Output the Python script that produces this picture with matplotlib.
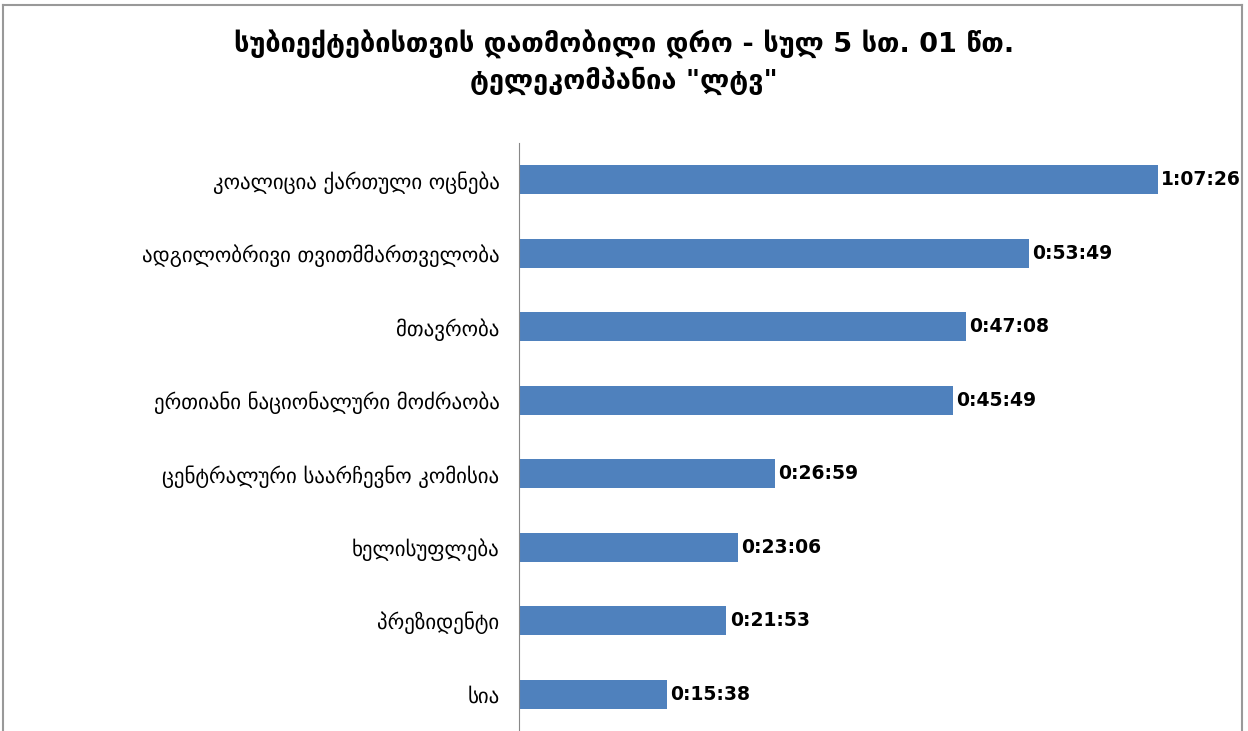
import matplotlib
matplotlib.use('Agg')
import matplotlib.pyplot as plt
from matplotlib.lines import Line2D

plt.rcParams['font.family'] = ['DejaVu Sans']

categories = ['კოალიცია ქართული ოცნება', 'ადგილობრივი თვითმმართველობა', 'მთავრობა',
              'ერთიანი ნაციონალური მოძრაობა', 'ცენტრალური საარჩევნო კომისია',
              'ხელისუფლება', 'პრეზიდენტი', 'სია']
times = ['1:07:26', '0:53:49', '0:47:08', '0:45:49', '0:26:59', '0:23:06', '0:21:53', '0:15:38']
title = 'სუბიექტებისთვის დათმობილი დრო - სულ 5 სთ. 01 წთ.\nტელეკომპანია "ლტვ"'


def to_seconds(t):
    h, m, s = t.split(':')
    return int(h) * 3600 + int(m) * 60 + int(s)


seconds = [to_seconds(t) for t in times]

W, H = 1248, 731
fig = plt.figure(figsize=(W / 100, H / 100), dpi=100)
ax = fig.add_axes([519 / W, 0, (1240 - 519) / W, 1 - 143 / H])

ypos = list(range(len(categories)))
ax.barh(ypos, seconds, height=0.39, color='#4f81bd')
ax.set_ylim(len(categories) - 0.5, -0.5)
ax.set_xlim(0, 4566)

for y, s, t in zip(ypos, seconds, times):
    ax.text(s + 22, y, t, va='center', ha='left', fontsize=13.5, fontweight='bold')

ax.set_yticks(ypos)
ax.set_yticklabels(categories, fontsize=15)
ax.tick_params(axis='y', length=0, pad=14)
ax.set_xticks([])
for side in ['top', 'right', 'bottom']:
    ax.spines[side].set_visible(False)
ax.spines['left'].set_color('#888888')

fig.text(0.5, 1 - 62 / H, title, ha='center', va='center', fontsize=19.5,
         fontweight='bold', linespacing=1.35)

# outer chart border
fig.add_artist(Line2D([3 / W, 3 / W], [0, 1 - 5 / H], color='#999999', lw=1.5))
fig.add_artist(Line2D([1242 / W, 1242 / W], [0, 1 - 5 / H], color='#999999', lw=1.5))
fig.add_artist(Line2D([3 / W, 1242 / W], [1 - 5 / H, 1 - 5 / H], color='#999999', lw=1.5))

fig.savefig('out.png', dpi=100)
